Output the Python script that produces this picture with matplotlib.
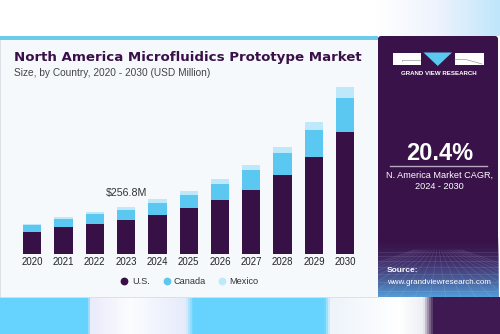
import numpy as np
import matplotlib
matplotlib.use("Agg")
import matplotlib.pyplot as plt
from matplotlib.patches import Rectangle, Polygon, FancyBboxPatch
from matplotlib.colors import LinearSegmentedColormap

# ---- data (USD Million) ----
years = ["2020", "2021", "2022", "2023", "2024", "2025", "2026", "2027", "2028", "2029", "2030"]
us = [118, 147, 163, 185, 213, 248, 292, 348, 427, 525, 661]
canada = [37, 45, 53, 54, 62, 72, 90, 109, 123, 148, 185]
mexico = [7, 11, 11, 18, 23, 22, 26, 27, 33, 43, 58]
series_names = ["U.S.", "Canada", "Mexico"]
colors = ["#371046", "#5bc8f2", "#bfe9fa"]
highlight_label = "$256.8M"
highlight_index = 3
title = "North America Microfluidics Prototype Market"
subtitle = "Size, by Country, 2020 - 2030 (USD Million)"
cagr = "20.4%"
cagr_text = "N. America Market CAGR,\n2024 - 2030"

W, H = 500, 334
fig = plt.figure(figsize=(W / 100, H / 100), dpi=100)
fig.patch.set_facecolor("white")
font = ["Liberation Sans", "DejaVu Sans"]

# background axes in pixel coords
bg = fig.add_axes([0, 0, 1, 1], zorder=0)
bg.set_xlim(0, W)
bg.set_ylim(H, 0)
bg.axis("off")

# top-right glow
grad = np.linspace(0, 1, 120)[None, :] * np.ones((36, 1))
glow = LinearSegmentedColormap.from_list("g", ["#ffffff", "#eef3fd", "#bfe6fb"])
bg.imshow(grad, extent=(375, 500, 36, 0), cmap=glow, aspect="auto", zorder=0)

# bottom strip
strip_cmap = LinearSegmentedColormap.from_list(
    "s",
    [(0.0, "#66d3fe"), (0.174, "#66d3fe"), (0.18, "#eaebfb"), (0.26, "#fbfdfe"),
     (0.37, "#e6ebfb"), (0.386, "#66d3fe"), (0.65, "#66d3fe"), (0.662, "#eef4fb"),
     (0.8, "#ffffff"), (0.85, "#eceef4"), (0.87, "#3f1a52"), (1.0, "#3f1a52")])
bg.imshow(np.linspace(0, 1, 500)[None, :], extent=(0, 500, 334, 297), cmap=strip_cmap,
          aspect="auto", zorder=0)

# white panel
bg.add_patch(Rectangle((0, 37), 378, 260, facecolor="#f5f9fc", edgecolor="#d8dde3",
                       linewidth=0.6, zorder=1))
bg.add_patch(Rectangle((0, 36), 378, 4, facecolor="#6ccbe8", edgecolor="none", zorder=2))

# right dark panel
bg.add_patch(FancyBboxPatch((378, 36), 120, 261, boxstyle="round,pad=0,rounding_size=3",
                            facecolor="#381248", edgecolor="none", zorder=1))
vgrad = np.linspace(0, 1, 100)[:, None]
pan_cmap = LinearSegmentedColormap.from_list(
    "p", [(0, (0.22, 0.07, 0.28, 0.0)), (0.35, (0.27, 0.2, 0.45, 0.6)),
          (1.0, (0.33, 0.62, 0.85, 1.0))])
bg.imshow(vgrad, extent=(378, 499, 297, 235), origin="upper", cmap=pan_cmap,
          aspect="auto", zorder=2)
# perspective grid
for k in np.linspace(-160, 160, 22):
    bg.plot([438 + k * 0.15, 438 + k], [250, 297], color="white", alpha=0.12, lw=0.5, zorder=3,
            clip_on=True)
for yy in [252, 256, 261, 267, 274, 282, 291]:
    bg.plot([378, 499], [yy, yy], color="white", alpha=0.12, lw=0.5, zorder=3)
bg.set_xlim(0, W)
bg.set_ylim(H, 0)

# logo
bg.add_patch(Rectangle((393, 52.5), 28, 12.5, facecolor="white", edgecolor="none", zorder=4))
bg.plot([402, 402, 420], [61, 59.5, 59.5], color="#9a9a9a", lw=0.5, zorder=5)
bg.add_patch(Polygon([(423.5, 52.5), (452, 52.5), (437.75, 66)], closed=True,
                     facecolor="#5bc8f0", edgecolor="none", zorder=4))
bg.add_patch(Rectangle((454.5, 52.5), 29.5, 12.5, facecolor="white", edgecolor="none", zorder=4))
bg.plot([455, 466, 482], [59.5, 59.5, 64], color="#9a9a9a", lw=0.5, zorder=5)
bg.text(438.5, 73.5, "GRAND VIEW RESEARCH", color="white", fontsize=4.4, fontweight="bold",
        ha="center", va="center", family=font, zorder=5)

bg.text(439.5, 153, cagr, color="white", fontsize=17, fontweight="bold", ha="center",
        va="center", family=font, zorder=5)
bg.plot([390, 487], [165.7, 165.7], color="#b7a9c0", lw=1.0, zorder=5)
bg.text(439, 181, cagr_text, color="white", fontsize=6.6, ha="center", va="center",
        family=font, linespacing=1.35, zorder=5)
bg.text(387, 270.8, "Source:", color="white", fontsize=6.0, fontweight="bold", ha="left",
        va="center", family=font, zorder=5)
bg.text(387, 282.3, "www.grandviewresearch.com", color="white", fontsize=5.8, ha="left",
        va="center", family=font, zorder=5)

# titles
bg.text(14, 57, title, color="#3a1048", fontsize=9.6, fontweight="bold", ha="left",
        va="center", family=["DejaVu Sans"], zorder=5)
bg.text(14, 73, subtitle, color="#444444", fontsize=7.25, ha="left", va="center",
        family=font, zorder=5)

# chart axes
px_per_unit = 47.3 / 256.8
step = 31.3
x0 = 32.2
left_px = x0 - 0.7 * step
width_px = 11.4 * step
base_px = 254
top_px = 80
ax = fig.add_axes([left_px / W, (H - base_px) / H, width_px / W, (base_px - top_px) / H],
                  zorder=2)
ax.patch.set_alpha(0)
x = np.arange(len(years))
us_a, ca_a, mx_a = np.array(us), np.array(canada), np.array(mexico)
ax.bar(x, us_a, width=0.585, color=colors[0], label=series_names[0])
ax.bar(x, ca_a, width=0.585, bottom=us_a, color=colors[1], label=series_names[1])
ax.bar(x, mx_a, width=0.585, bottom=us_a + ca_a, color=colors[2], label=series_names[2])
ax.set_xlim(-0.7, 10.7)
ax.set_ylim(0, (base_px - top_px) / px_per_unit)
ax.set_xticks(x)
ax.set_xticklabels(years, family=font, fontsize=6.9, color="#222222")
ax.tick_params(axis="x", length=0, pad=2.5)
ax.set_yticks([])
for s in ax.spines.values():
    s.set_visible(False)
tot = us_a + ca_a + mx_a
ax.text(highlight_index, tot[highlight_index] + 13.5 / px_per_unit, highlight_label,
        ha="center", va="center", fontsize=7.7, color="#333333", family=font)

# legend
leg_y = 281.3
for name, c, mxp, txp in zip(series_names, colors, [124, 166.7, 222.3], [132.3, 174, 229.3]):
    bg.plot([mxp], [leg_y], marker="o", markersize=4.6, color=c, zorder=6, linestyle="none")
    bg.text(txp, leg_y, name, fontsize=6.6, color="#333333", ha="left", va="center",
            family=font, zorder=6)

fig.savefig("out.png", dpi=100)
